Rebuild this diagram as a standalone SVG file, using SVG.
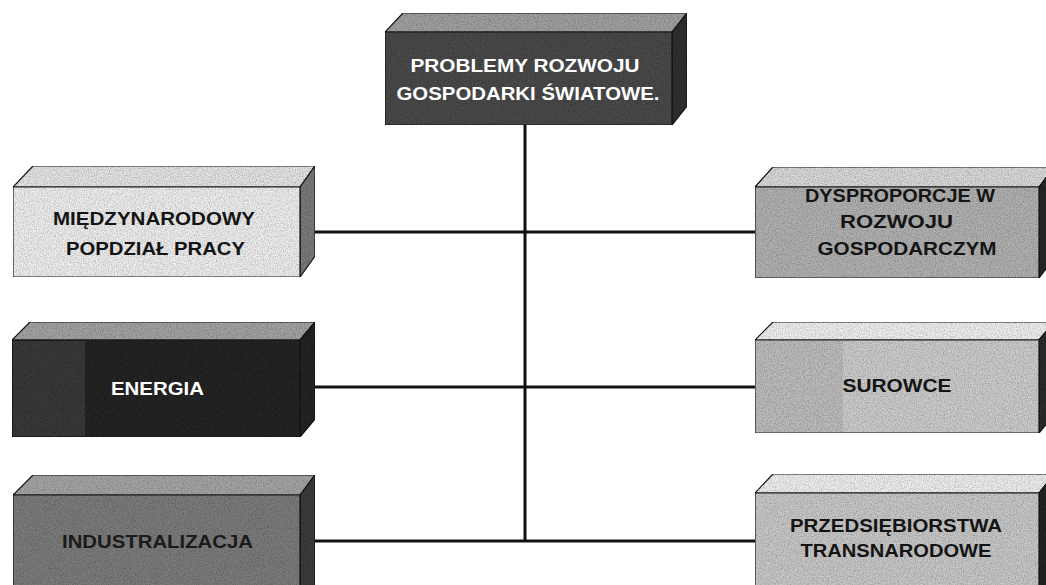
<svg xmlns="http://www.w3.org/2000/svg" width="1046" height="585" viewBox="0 0 1046 585">
<defs>
<filter id="grain" x="0" y="0" width="100%" height="100%">
<feTurbulence type="fractalNoise" baseFrequency="0.85" numOctaves="2" seed="4" result="n"/>
<feColorMatrix in="n" type="matrix" values="0 0 0 0 0  0 0 0 0 0  0 0 0 0 0  0.9 0 0 0 -0.3" result="na"/>
<feComposite in="na" in2="SourceGraphic" operator="in" result="nc"/>
<feMerge><feMergeNode in="SourceGraphic"/><feMergeNode in="nc"/></feMerge>
</filter>
</defs>
<style>
.f{stroke:#1a1a1a;stroke-width:1.2;stroke-linejoin:round}
.t{font-family:"Liberation Sans",Arial,sans-serif;font-weight:bold;font-size:18px;text-anchor:middle}
.w{fill:#ffffff}
.k{fill:#141414}
.c{stroke:#111;stroke-width:3;fill:none}
</style>
<rect width="1046" height="585" fill="#ffffff"/>
<g id="connectors">
<line class="c" x1="525" y1="125" x2="525" y2="541"/>
<line class="c" x1="300" y1="232" x2="755" y2="232"/>
<line class="c" x1="300" y1="387" x2="755" y2="387"/>
<line class="c" x1="300" y1="541" x2="755" y2="541"/>
</g>
<g id="n-problemy">
<g filter="url(#grain)">
<polygon class="f" points="385,32 403,13 687,13 672,32" fill="#a2a2a2"/>
<polygon class="f" points="672,32 687,13 687,106 672,125" fill="#303030"/>
<rect class="f" x="385" y="32" width="287" height="93" fill="#4b4b4b"/>
</g>
<text class="t w" x="525" y="72" textLength="229" lengthAdjust="spacingAndGlyphs">PROBLEMY ROZWOJU</text>
<text class="t w" x="528" y="100" textLength="263" lengthAdjust="spacingAndGlyphs">GOSPODARKI ŚWIATOWE.</text>
</g>
<g id="n-miedzynarodowy">
<g filter="url(#grain)">
<polygon class="f" points="13,187 33,166 315,166 300,187" fill="#e6e6e6"/>
<polygon class="f" points="300,187 315,166 315,256 300,277" fill="#7c7c7c"/>
<rect class="f" x="13" y="187" width="287" height="90" fill="#f0f0f0"/>
</g>
<text class="t k" x="154" y="225" textLength="202" lengthAdjust="spacingAndGlyphs">MIĘDZYNARODOWY</text>
<text class="t k" x="155.5" y="255" textLength="179" lengthAdjust="spacingAndGlyphs">POPDZIAŁ PRACY</text>
</g>
<g id="n-energia">
<g filter="url(#grain)">
<polygon class="f" points="12,340 30,322 315,322 300,340" fill="#a4a4a4"/>
<polygon class="f" points="300,340 315,322 315,419 300,437" fill="#262626"/>
<rect class="f" x="12" y="340" width="288" height="97" fill="#272727"/>
<rect x="13" y="341" width="72" height="95" fill="#3a3a3a"/>
</g>
<text class="t w" x="157.5" y="395" font-size="19" textLength="93" lengthAdjust="spacingAndGlyphs" style="font-size:19px">ENERGIA</text>
</g>
<g id="n-industralizacja">
<g filter="url(#grain)">
<polygon class="f" points="13,495 33,475 315,475 300,495" fill="#a6a6a6"/>
<polygon class="f" points="300,495 315,475 315,585 300,590" fill="#3e3e3e"/>
<rect class="f" x="13" y="495" width="287" height="100" fill="#7d7d7d"/>
</g>
<text class="t" x="157.5" y="548" fill="#1a1a1a" textLength="191" lengthAdjust="spacingAndGlyphs" style="font-size:19px">INDUSTRALIZACJA</text>
</g>
<g id="n-dysproporcje">
<g filter="url(#grain)">
<polygon class="f" points="755,187 773,167 1054,167 1039,187" fill="#dadada"/>
<polygon class="f" points="1039,187 1054,167 1054,258 1039,278" fill="#2a2a2a"/>
<rect class="f" x="755" y="187" width="284" height="91" fill="#b2b2b2"/>
</g>
<text class="t k" x="900" y="202" textLength="190" lengthAdjust="spacingAndGlyphs">DYSPROPORCJE W</text>
<text class="t k" x="896.5" y="228" textLength="113" lengthAdjust="spacingAndGlyphs">ROZWOJU</text>
<text class="t k" x="907" y="255" textLength="179" lengthAdjust="spacingAndGlyphs">GOSPODARCZYM</text>
</g>
<g id="n-surowce">
<g filter="url(#grain)">
<polygon class="f" points="755,340 773,322 1054,322 1039,340" fill="#f1f1f1"/>
<polygon class="f" points="1039,340 1054,322 1054,415 1039,433" fill="#2e2e2e"/>
<rect class="f" x="755" y="340" width="284" height="93" fill="#cdcdcd"/>
<rect x="756" y="341" width="87" height="91" fill="#bebebe"/>
</g>
<text class="t k" x="897" y="392" textLength="109" lengthAdjust="spacingAndGlyphs" style="font-size:19px">SUROWCE</text>
</g>
<g id="n-przedsiebiorstwa">
<g filter="url(#grain)">
<polygon class="f" points="755,493 773,474 1054,474 1039,493" fill="#f0f0f0"/>
<polygon class="f" points="1039,493 1054,474 1054,585 1039,590" fill="#262626"/>
<rect class="f" x="755" y="493" width="284" height="100" fill="#c9c9c9"/>
</g>
<text class="t k" x="896" y="532" textLength="212" lengthAdjust="spacingAndGlyphs">PRZEDSIĘBIORSTWA</text>
<text class="t k" x="896" y="557" textLength="191" lengthAdjust="spacingAndGlyphs">TRANSNARODOWE</text>
</g>
</svg>
